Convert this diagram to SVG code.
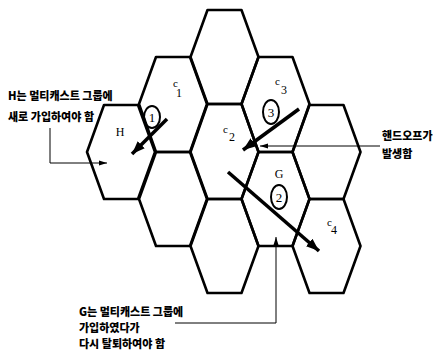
<svg xmlns="http://www.w3.org/2000/svg" width="433" height="352" viewBox="0 0 433 352">
<style>
.hex{fill:none;stroke:#000;stroke-width:2.6;stroke-linejoin:round}
.kr{font-family:"Noto Sans CJK KR","Noto Sans",sans-serif;font-weight:900;font-size:11px;fill:#000}
.lb{font-family:"Liberation Serif",serif;fill:#000}
.big{stroke:#000;stroke-width:3.6;fill:none}
.thin{stroke:#000;stroke-width:1;fill:none}
.circ{fill:none;stroke:#000;stroke-width:2}
</style>
<defs>
<marker id="ah" markerUnits="userSpaceOnUse" markerWidth="14" markerHeight="12" refX="13" refY="6" orient="auto">
<path d="M0,1 L13,6 L0,11 Z" fill="#000"/>
</marker>
<marker id="sh" markerUnits="userSpaceOnUse" markerWidth="8" markerHeight="6" refX="8" refY="3" orient="auto">
<path d="M0,0.5 L8,3 L0,5.5 Z" fill="#000"/>
</marker>
</defs>
<g id="hex-H"><polygon class="hex" points="87,152 104,105 138,105 155,152 138,199 104,199"/><text class="lb" x="120" y="136" font-size="12" text-anchor="middle">H</text></g>
<g id="hex-c1"><polygon class="hex" points="139,104 156,57 190,57 207,104 190,152 156,152"/><text class="lb" x="173" y="87" font-size="11">c</text><text class="lb" x="176" y="97" font-size="12">1</text></g>
<g id="hex-b2"><polygon class="hex" points="139,199 156,152 190,152 207,199 190,246 156,246"/></g>
<g id="hex-top"><polygon class="hex" points="190.5,57 207.5,10 241.5,10 258.5,57 241.5,104 207.5,104"/></g>
<g id="hex-c2"><polygon class="hex" points="190.5,152 207.5,104 241.5,104 258.5,152 241.5,199 207.5,199"/><text class="lb" x="223" y="133" font-size="11">c</text><text class="lb" x="229" y="141" font-size="12">2</text></g>
<g id="hex-c-low"><polygon class="hex" points="190.5,246 207.5,199 241.5,199 258.5,246 241.5,293 207.5,293"/></g>
<g id="hex-c3"><polygon class="hex" points="241.5,104 258.5,57 292.5,57 309.5,104 292.5,152 258.5,152"/><text class="lb" x="275" y="85" font-size="11">c</text><text class="lb" x="281" y="94" font-size="12">3</text></g>
<g id="hex-G"><polygon class="hex" points="241.5,199 258.5,152 292.5,152 309.5,199 292.5,246 258.5,246"/><text class="lb" x="279" y="178" font-size="12" text-anchor="middle">G</text></g>
<g id="hex-e1"><polygon class="hex" points="292.5,152 309.5,105 343.5,105 360.5,152 343.5,199 309.5,199"/></g>
<g id="hex-c4"><polygon class="hex" points="292.5,246 309.5,199 343.5,199 360.5,246 343.5,293 309.5,293"/><text class="lb" x="327" y="226" font-size="11">c</text><text class="lb" x="331" y="234" font-size="12">4</text></g>
<g id="step1"><ellipse class="circ" cx="152" cy="117" rx="8" ry="11"/><text class="lb" x="152" y="122" font-size="13" text-anchor="middle">1</text></g>
<g id="step2"><ellipse class="circ" cx="279" cy="197" rx="8" ry="12"/><text class="lb" x="279" y="202" font-size="13" text-anchor="middle">2</text></g>
<g id="step3"><ellipse class="circ" cx="271" cy="112" rx="8" ry="12"/><text class="lb" x="271" y="117" font-size="13" text-anchor="middle">3</text></g>
<g id="connectors">
<line class="big" x1="167" y1="119" x2="132" y2="154" marker-end="url(#ah)"/>
<line class="big" x1="299" y1="109" x2="243" y2="150" marker-end="url(#ah)"/>
<line class="big" x1="228" y1="172" x2="319" y2="251" marker-end="url(#ah)"/>
<polyline class="thin" points="50,128 50,163 107,163" marker-end="url(#sh)"/>
<line class="thin" x1="380" y1="146" x2="260" y2="146" marker-end="url(#sh)"/>
<polyline class="thin" points="175,323 276,323 276,237" marker-end="url(#sh)"/>
</g>
<g id="notes">
<text class="kr" x="8" y="100">H는 멀티캐스트 그룹에</text>
<text class="kr" x="8" y="121">새로 가입하여야 함</text>
<text class="kr" x="382" y="140">핸드오프가</text>
<text class="kr" x="382" y="158">발생함</text>
<text class="kr" x="79" y="316">G는 멀티캐스트 그룹에</text>
<text class="kr" x="79" y="332">가입하였다가</text>
<text class="kr" x="79" y="348">다시 탈퇴하여야 함</text>
</g>
</svg>
